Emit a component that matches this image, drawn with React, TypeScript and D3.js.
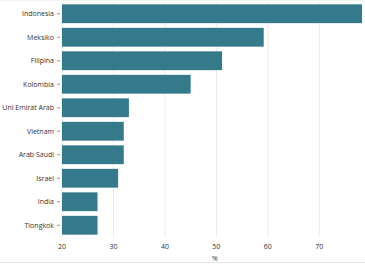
import React, { useEffect, useRef } from "react";
import * as d3 from "d3";

const countries = [
  "Indonesia",
  "Meksiko",
  "Filipina",
  "Kolombia",
  "Uni Emirat Arab",
  "Vietnam",
  "Arab Saudi",
  "Israel",
  "India",
  "Tiongkok",
];
const values = [78.3, 59.2, 51.1, 45.0, 33.0, 32.0, 32.0, 30.9, 26.9, 26.9];
const xTicks = [20, 30, 40, 50, 60, 70];

const App = () => {
  const width = 365;
  const height = 265;
  const margin = { top: 2, right: 3, bottom: 28, left: 62 };
  const svgRef = useRef<SVGSVGElement>(null);

  useEffect(() => {
    const svg = d3.select(svgRef.current);
    svg.selectAll("*").remove();

    const data = countries.map((c, i) => ({ name: c, value: values[i] }));

    const x = d3
      .scaleLinear()
      .domain([20, d3.max(values) as number])
      .range([margin.left, width - margin.right]);

    const y = d3
      .scaleBand()
      .domain(countries)
      .range([margin.top, height - margin.bottom])
      .paddingInner(0.2)
      .paddingOuter(0.1);

    const font = "'Open Sans', 'DejaVu Sans', sans-serif";

    // grid
    svg
      .append("g")
      .selectAll("line")
      .data(xTicks)
      .join("line")
      .attr("x1", (d) => x(d))
      .attr("x2", (d) => x(d))
      .attr("y1", margin.top)
      .attr("y2", height - margin.bottom)
      .attr("stroke", "#ebebeb")
      .attr("stroke-width", 1);

    // bars
    svg
      .append("g")
      .attr("fill", "#347a8b")
      .selectAll("rect")
      .data(data)
      .join("rect")
      .attr("x", x(20))
      .attr("y", (d) => y(d.name) as number)
      .attr("width", (d) => x(d.value) - x(20))
      .attr("height", y.bandwidth());

    // y axis labels + ticks
    const yg = svg.append("g");
    yg.selectAll("line")
      .data(countries)
      .join("line")
      .attr("x1", margin.left - 5)
      .attr("x2", margin.left - 2)
      .attr("y1", (d) => (y(d) as number) + y.bandwidth() / 2)
      .attr("y2", (d) => (y(d) as number) + y.bandwidth() / 2)
      .attr("stroke", "#999");
    yg.selectAll("text")
      .data(countries)
      .join("text")
      .attr("x", margin.left - 8)
      .attr("y", (d) => (y(d) as number) + y.bandwidth() / 2)
      .attr("dy", "0.35em")
      .attr("text-anchor", "end")
      .attr("font-family", font)
      .attr("font-size", 7)
      .attr("fill", "#333")
      .text((d) => d);

    // x axis labels
    svg
      .append("g")
      .selectAll("text")
      .data(xTicks)
      .join("text")
      .attr("x", (d) => x(d))
      .attr("y", 247)
      .attr("dy", "0.35em")
      .attr("text-anchor", "middle")
      .attr("font-family", font)
      .attr("font-size", 7)
      .attr("fill", "#333")
      .text((d) => d);

    svg
      .append("text")
      .attr("x", (x(20) + x(d3.max(values) as number)) / 2 + 3)
      .attr("y", 259)
      .attr("dy", "0.35em")
      .attr("text-anchor", "middle")
      .attr("font-family", font)
      .attr("font-size", 7)
      .attr("fill", "#333")
      .text("%");

    // container borders
    svg
      .append("line")
      .attr("x1", 0)
      .attr("x2", width)
      .attr("y1", 262.5)
      .attr("y2", 262.5)
      .attr("stroke", "#e6e6e6");
    svg
      .append("line")
      .attr("x1", 0)
      .attr("x2", width)
      .attr("y1", 0.5)
      .attr("y2", 0.5)
      .attr("stroke", "#f2f2f2");
  }, []);

  return (
    <svg
      ref={svgRef}
      width={width}
      height={height}
      style={{ position: "absolute", left: 0, top: 0, background: "#fff" }}
    />
  );
};

export default App;
